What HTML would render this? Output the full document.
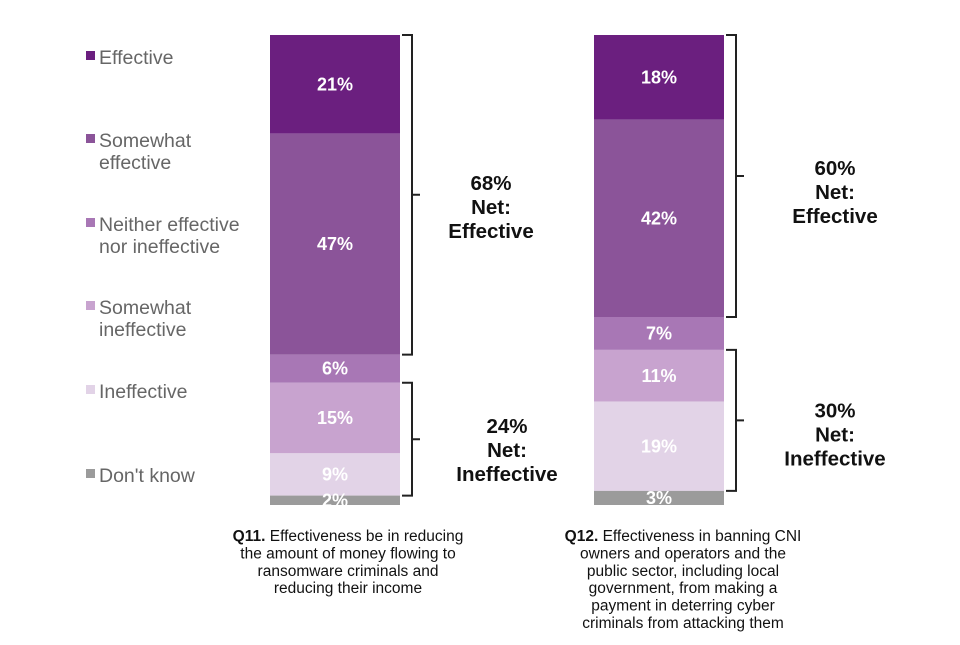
<!DOCTYPE html>
<html><head><meta charset="utf-8"><style>
body{margin:0;background:#fff;font-family:"Liberation Sans",sans-serif}
svg text{font-family:"Liberation Sans",sans-serif}
</style></head><body>
<svg width="960" height="640" viewBox="0 0 960 640" id="chart"></svg>
<script>
const categories=["Effective","Somewhat effective","Neither effective nor ineffective","Somewhat ineffective","Ineffective","Don't know"];
const q11Values=[21,47,6,15,9,2];
const q12Values=[18,42,7,11,19,3];
const netLabels11=["68%","24%"];
const netLabels12=["60%","30%"];
const colors=["#6b1f7f","#8b5499","#a877b5","#c8a3cf","#e2d3e7","#9b9b9b"];
const textColors=["#fff","#fff","#fff","#fff","#fff","#fff"];
const NS="http://www.w3.org/2000/svg";
const svg=document.getElementById('chart');
function el(t,a,p){const e=document.createElementNS(NS,t);for(const k in a)e.setAttribute(k,a[k]);(p||svg).appendChild(e);return e;}
const top0=35, pxPer=4.7;
function y(v){return top0+v*pxPer;}
const legY=[58,152,236,319,392,476];
const legLines=[["Effective"],["Somewhat","effective"],["Neither effective","nor ineffective"],["Somewhat","ineffective"],["Ineffective"],["Don't know"]];
legLines.forEach((ls,i)=>{
  const g=el('g',{});
  
  
  el('rect',{x:86,y:legY[i]-7+(ls.length>1?-11:0),width:9,height:9,fill:colors[i]},g);
  ls.forEach((l,j)=>{const t=el('text',{x:99,y:legY[i]+(ls.length>1?-11:0)+6+j*22,'font-size':19.5,fill:'#666'},g);t.textContent=l;});
});
function bar(x,vals,name){
  const g=el('g',{});
  
  
  let c=0;
  vals.forEach((v,i)=>{
    const r=el('rect',{x:x,y:y(c),width:130,height:v*pxPer,fill:colors[i]},g);
    
    
    const t=el('text',{x:x+65,y:y(c+v/2)+6,'text-anchor':'middle','font-size':18,'font-weight':'bold',fill:textColors[i]},g);
    t.textContent=v+'%';
    c+=v;
  });
}
bar(270,q11Values,'bar-q11');
bar(594,q12Values,'bar-q12');
function bracket(x,y1,y2,name){
  const m=(y1+y2)/2;
  const p=el('path',{d:`M${x} ${y1} H${x+10} V${y2} H${x} M${x+10} ${m} H${x+18}`,stroke:'#222','stroke-width':2,fill:'none'});
  
  
}
function sum(a,n){return a.slice(0,n).reduce((s,v)=>s+v,0);}
function net(x,y1,y2,pct,word,name,off){
  const m=(y1+y2)/2;
  const lines=[pct,'Net:',word];
  lines.forEach((l,j)=>{const t=el('text',{x:x,y:m+off+j*24,'text-anchor':'middle','font-size':20.5,'font-weight':'bold',fill:'#111'});
  t.textContent=l;});
}
bracket(402,y(0),y(sum(q11Values,2)),'bracket-net-effective-q11');
bracket(402,y(sum(q11Values,3)),y(sum(q11Values,5)),'bracket-net-ineffective-q11');
net(491,y(0),y(sum(q11Values,2)),netLabels11[0],'Effective','net-effective-q11',-5);
net(507,y(sum(q11Values,3)),y(sum(q11Values,5)),netLabels11[1],'Ineffective','net-ineffective-q11',-6);
bracket(726,y(0),y(sum(q12Values,2)),'bracket-net-effective-q12');
bracket(726,y(sum(q12Values,3)),y(sum(q12Values,5)),'bracket-net-ineffective-q12');
net(835,y(0),y(sum(q12Values,2)),netLabels12[0],'Effective','net-effective-q12',-1);
net(835,y(sum(q12Values,3)),y(sum(q12Values,5)),netLabels12[1],'Ineffective','net-ineffective-q12',-3);
function caption(cx,lines,name){
  lines.forEach((l,j)=>{const t=el('text',{x:cx,y:541+j*17.4,'text-anchor':'middle','font-size':15.5,fill:'#111'});
  
  if(j===0){const b=el('tspan',{'font-weight':'bold'},t);b.textContent=l[0];const s=el('tspan',{},t);s.textContent=l[1];}else t.textContent=l;});
}
caption(348,[["Q11.", " Effectiveness be in reducing"],"the amount of money flowing to","ransomware criminals and","reducing their income"],'caption-q11');
caption(683,[["Q12.", " Effectiveness in banning CNI"],"owners and operators and the","public sector, including local","government, from making a","payment in deterring cyber","criminals from attacking them"],'caption-q12');
</script>
</body></html>
